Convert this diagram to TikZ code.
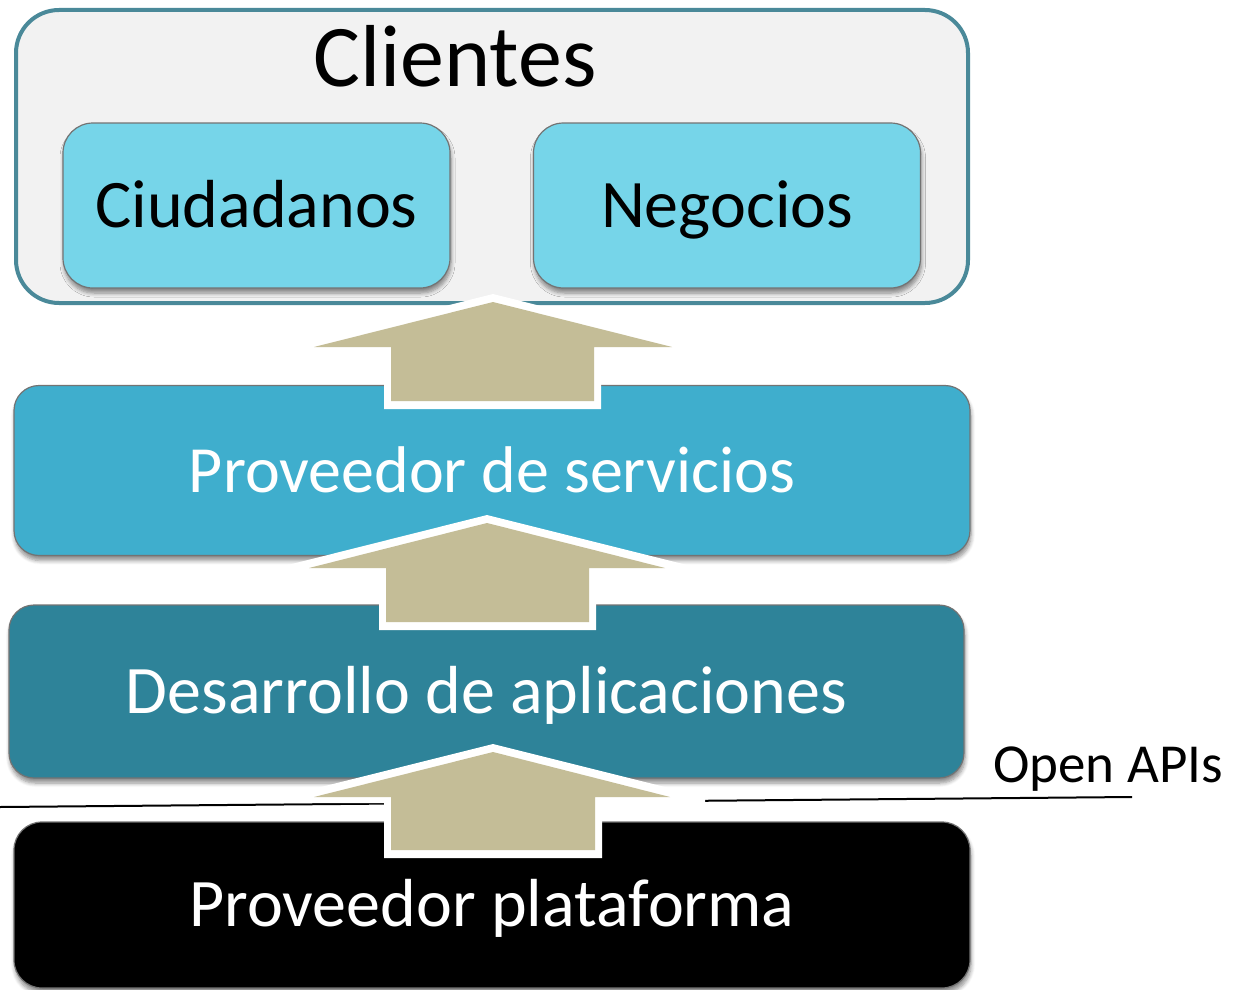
\documentclass[tikz,border=0pt]{standalone}
\usepackage{fontspec}
\setmainfont{Carlito}
\usepackage{tikz}
\usetikzlibrary{shadows.blur}

\definecolor{clientBack}{RGB}{242,242,242}
\definecolor{clientLine}{RGB}{74,137,153}
\definecolor{cyanBox}{RGB}{118,213,233}
\definecolor{serviceBox}{RGB}{63,174,205}
\definecolor{devBox}{RGB}{46,131,153}
\definecolor{arrowTan}{RGB}{196,189,151}

\tikzset{
  softshadow/.style={blur shadow={shadow xshift=1pt, shadow yshift=-5pt, shadow blur steps=6, shadow blur radius=4pt, shadow opacity=45}},
  layerbox/.style={draw=black!55, line width=1.2, rounded corners=25, minimum width=956, minimum height=170, inner sep=0,
    text=white, font=\fontsize{66}{66}\selectfont, text height=43, text depth=0, softshadow},
  clientbox/.style={draw=black!55, line width=1.2, rounded corners=30, fill=cyanBox, minimum width=387, minimum height=165, inner sep=0,
    font=\fontsize{68}{68}\selectfont, text height=43, text depth=0, softshadow},
  upback/.style={fill=white},
  upblock/.style={fill=arrowTan},
}

\begin{document}
\begin{tikzpicture}[x=1pt,y=-1pt]
\useasboundingbox (0,0) rectangle (1237,990);

% Rounded Rect
\node (clientes) [draw=clientLine, fill=clientBack, line width=4, rounded corners=43, minimum width=952, minimum height=293] at (492,156.5) {};
% Text Node
\node (clientesTitle) [anchor=base, font=\fontsize{88}{88}\selectfont] at (455,86) {Clientes};
% Rounded Rect
\node (ciudadanos) [clientbox] at (256.5,205.5) {Ciudadanos};
\node (negocios) [clientbox] at (727,205.5) {Negocios};

% Rounded Rect
\node (servicios) [layerbox, fill=serviceBox] at (492,470.5) {Proveedor de servicios};
\node (desarrollo) [layerbox, fill=devBox, minimum width=955, minimum height=173, font=\fontsize{68}{68}\selectfont] at (486.5,691.5) {Desarrollo de aplicaciones};
\node (plataforma) [layerbox, fill=black, minimum height=166, rounded corners=28, font=\fontsize{68}{68}\selectfont] at (492,905) {Proveedor plataforma};

%Straight Lines
\coordinate (apiL) at (0,807);
\coordinate (apiR) at (1132,797);
\draw [line width=2] (apiL) -- (apiR);
% Text Node
\node (openapis) [anchor=base west, font=\fontsize{55}{55}\selectfont, inner sep=0] at (993,782) {Open APIs};

%Block Arrows (white rim, then tan body)
\fill [upback] (493,294) -- (703,347) -- (703,353) -- (601,353) -- (601,409) -- (384,409) -- (384,353) -- (283,353) -- (283,347) -- cycle;
\fill [upblock] (493,302) -- (672,347) -- (594,347) -- (594,401) -- (391,401) -- (391,347) -- (314,347) -- cycle;

\fill [upback] (487,515) -- (699,568) -- (699,574) -- (596,574) -- (596,630) -- (379,630) -- (379,574) -- (276,574) -- (276,568) -- cycle;
\fill [upblock] (487,523) -- (665,568) -- (589,568) -- (589,622) -- (386,622) -- (386,568) -- (309,568) -- cycle;

\fill [upback] (493,744) -- (705,797) -- (705,803) -- (602,803) -- (602,858) -- (384,858) -- (384,803) -- (281,803) -- (281,797) -- cycle;
\fill [upblock] (493,752) -- (670,797) -- (595,797) -- (595,850) -- (391,850) -- (391,797) -- (314,797) -- cycle;

\end{tikzpicture}
\end{document}
